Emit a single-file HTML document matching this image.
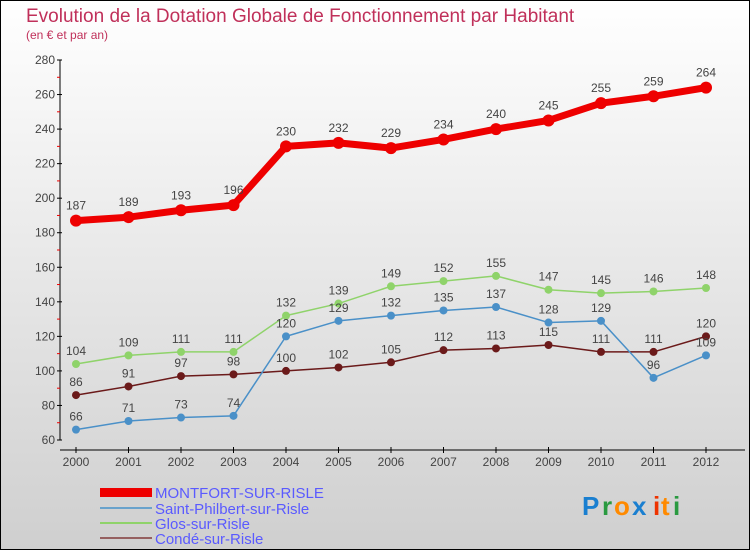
<!DOCTYPE html>
<html><head><meta charset="utf-8"><style>
body{margin:0;}
svg text{font-family:"Liberation Sans",sans-serif;}
</style></head><body>
<svg width="750" height="550" xmlns="http://www.w3.org/2000/svg">
<defs><linearGradient id="bg" x1="0" y1="0" x2="0" y2="1"><stop offset="0" stop-color="#ffffff"/><stop offset="1" stop-color="#cfcfcf"/></linearGradient></defs>
<rect x="0.5" y="0.5" width="749" height="549" fill="url(#bg)" stroke="#000"/>
<text x="26" y="22" font-size="19" fill="#c0305a">Evolution de la Dotation Globale de Fonctionnement par Habitant</text>
<text x="26" y="39" font-size="12" fill="#c0305a">(en € et par an)</text>
<g id="axes"></g>
<g id="series"></g>
<g id="legend">
<rect x="100" y="488" width="52" height="9" fill="#ee0000"/>
<text x="155" y="498" font-size="15" fill="#5a5aff">MONTFORT-SUR-RISLE</text>
<rect x="100" y="507" width="52" height="2" fill="#6aa3cc"/>
<text x="155" y="514" font-size="15" fill="#5a5aff">Saint-Philbert-sur-Risle</text>
<rect x="100" y="522" width="52" height="2" fill="#8fd36a"/>
<text x="155" y="529" font-size="15" fill="#5a5aff">Glos-sur-Risle</text>
<rect x="100" y="537" width="52" height="2" fill="#956060"/>
<text x="155" y="544" font-size="15" fill="#5a5aff">Condé-sur-Risle</text>
</g>
<g font-size="26" font-weight="bold">
<text x="582" y="515" fill="#1a7fd0">P</text><text x="602" y="515" fill="#2a9a40">r</text><text x="614" y="515" fill="#ff8a00">o</text><text x="632" y="515" fill="#1a7fd0">x</text><text x="653" y="515" fill="#ee3300">i</text><text x="661" y="515" fill="#ff8a00">t</text><text x="673" y="515" fill="#2a9a40">i</text>
</g>
</svg>
<script>
const years=["2000","2001","2002","2003","2004","2005","2006","2007","2008","2009","2010","2011","2012"];
const yTicks=[60,80,100,120,140,160,180,200,220,240,260,280];
const montfort=[187,189,193,196,230,232,229,234,240,245,255,259,264];
const philbert=[66,71,73,74,120,129,132,135,137,128,129,96,109];
const glos=[104,109,111,111,132,139,149,152,155,147,145,146,148];
const conde=[86,91,97,98,100,102,105,112,113,115,111,111,120];
const NS="http://www.w3.org/2000/svg";
const X=i=>76+i*52.5;
const Y=v=>440-(v-60)*380/220;
function mk(tag,attrs,parent,txt){const e=document.createElementNS(NS,tag);for(const k in attrs)e.setAttribute(k,attrs[k]);if(txt!==undefined)e.textContent=txt;parent.appendChild(e);return e;}
const ax=document.getElementById('axes');
let e=mk('line',{x1:60,y1:60,x2:60,y2:440,stroke:'#000'},ax);


yTicks.forEach((t,i)=>{
  mk('line',{x1:57,y1:Y(t),x2:62,y2:Y(t),stroke:'#000'},ax);
  e=mk('text',{x:55,y:Y(t)+4,'font-size':12,fill:'#444','text-anchor':'end'},ax,String(t));
  
  
  if(i<yTicks.length-1)mk('line',{x1:57,y1:Y(t+10),x2:60,y2:Y(t+10),stroke:'#e00'},ax);
});
e=mk('line',{x1:60,y1:450,x2:745,y2:450,stroke:'#000'},ax);


years.forEach((y,i)=>{
  mk('line',{x1:X(i),y1:447,x2:X(i),y2:453,stroke:'#000'},ax);
  e=mk('text',{x:X(i),y:466,'font-size':12,fill:'#444','text-anchor':'middle'},ax,y);
  
  
});
const sg=document.getElementById('series');
function series(data,color,w,r,name){
  const g=mk('g',{},sg);
  
  
  const l=mk('polyline',{points:data.map((v,i)=>X(i)+','+Y(v)).join(' '),fill:'none',stroke:color,'stroke-width':w,'stroke-linejoin':'round'},g);
  
  
  data.forEach((v,i)=>{
    const c=mk('circle',{cx:X(i),cy:Y(v),r:r,fill:color},g);
    
    
    const t=mk('text',{x:X(i),y:Y(v)-(r+5),'font-size':12,fill:'#444','text-anchor':'middle'},g,String(v));
    
    
  });
}
series(conde,'#6b1a1a',1.5,4,'conde-sur-risle');
series(glos,'#8fd36a',1.5,4,'glos-sur-risle');
series(philbert,'#4a90c8',1.5,4,'saint-philbert-sur-risle');
series(montfort,'#ee0000',7,6,'montfort-sur-risle');
</script>
</body></html>
